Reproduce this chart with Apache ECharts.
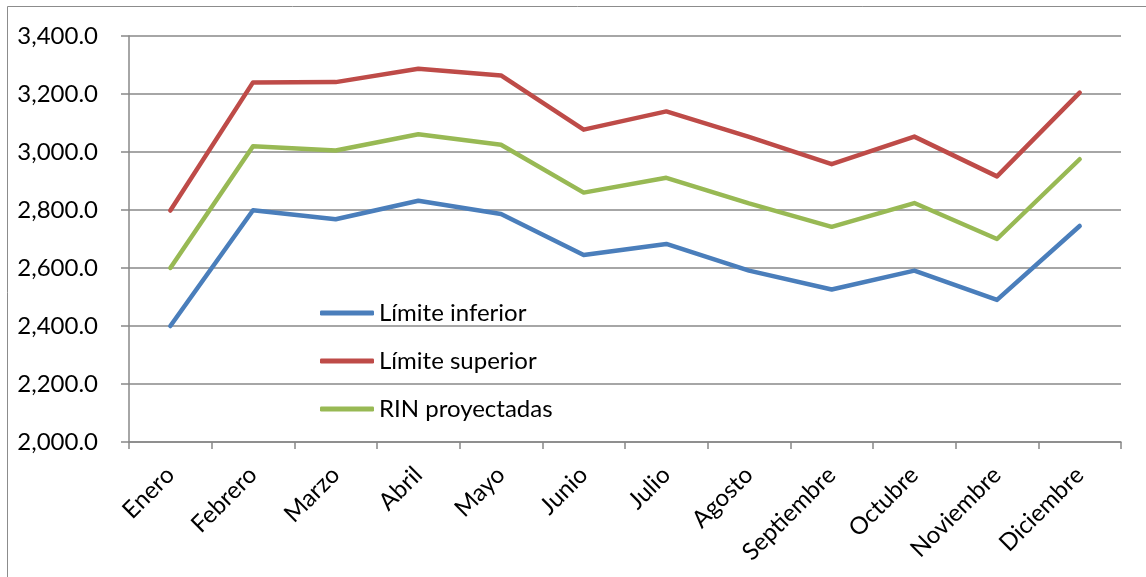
<!DOCTYPE html>
<html>
<head>
<meta charset="utf-8">
<script src="https://cdn.jsdelivr.net/npm/echarts@6/dist/echarts.min.js"></script>
<style>
  html, body { margin: 0; padding: 0; background: #fff; }
  #chart { width: 1146px; height: 577px; }
</style>
</head>
<body>
<div id="chart"></div>
<script>
// Monthly categories
const months = ['Enero', 'Febrero', 'Marzo', 'Abril', 'Mayo', 'Junio', 'Julio',
  'Agosto', 'Septiembre', 'Octubre', 'Noviembre', 'Diciembre'];

// Series values
const limiteInferior = [2400, 2799, 2768, 2832, 2786, 2645, 2683, 2591, 2526, 2591, 2490, 2745];
const limiteSuperior = [2798, 3240, 3241, 3287, 3264, 3077, 3140, 3052, 2958, 3053, 2916, 3205];
const rinProyectadas = [2600, 3020, 3005, 3061, 3025, 2860, 2911, 2823, 2742, 2824, 2700, 2975];

// Value axis range
const yMin = 2000, yMax = 3400, yStep = 200;

const FONT = 'Lato';
const FONT_SIZE = 24;
const GRID_COLOR = '#888888';

function lineSeries(name, data, color) {
  return {
    name: name,
    type: 'line',
    data: data,
    symbol: 'none',
    showSymbol: false,
    color: color,
    lineStyle: { color: color, width: 4.5, cap: 'round', join: 'round' },
    itemStyle: { color: color }
  };
}

const chart = echarts.init(document.getElementById('chart'), null, { renderer: 'canvas' });
chart.setOption({
  animation: false,
  backgroundColor: '#ffffff',
  graphic: [{
    type: 'rect',
    shape: { x: 7.5, y: 6.5, width: 1300, height: 800 },
    style: { fill: 'none', stroke: '#8c8c8c', lineWidth: 1 },
    silent: true
  }],
  grid: { left: 129, right: 25, top: 36, bottom: 135, containLabel: false },
  legend: {
    orient: 'vertical',
    left: 320,
    top: 301,
    padding: 0,
    icon: 'roundRect',
    itemWidth: 54,
    itemHeight: 5,
    itemGap: 24,
    textStyle: { fontFamily: FONT, fontSize: FONT_SIZE, color: '#000', lineHeight: 24 },
    data: ['Límite inferior', 'Límite superior', 'RIN proyectadas']
  },
  xAxis: {
    type: 'category',
    data: months,
    boundaryGap: true,
    axisLine: { show: true, lineStyle: { color: GRID_COLOR, width: 1.5 } },
    axisTick: { show: true, alignWithLabel: false, length: 7, lineStyle: { color: GRID_COLOR, width: 1.5 } },
    axisLabel: {
      interval: 0,
      rotate: 45,
      margin: 29,
      fontFamily: FONT,
      fontSize: FONT_SIZE,
      color: '#000'
    },
    splitLine: { show: false }
  },
  yAxis: {
    type: 'value',
    min: yMin,
    max: yMax,
    interval: yStep,
    axisLine: { show: true, lineStyle: { color: GRID_COLOR, width: 1.5 } },
    axisTick: { show: true, length: 8, lineStyle: { color: GRID_COLOR, width: 1.5 } },
    axisLabel: {
      margin: 31,
      fontFamily: FONT,
      fontSize: FONT_SIZE,
      color: '#000',
      formatter: v => v.toLocaleString('en-US', { minimumFractionDigits: 1, maximumFractionDigits: 1 })
    },
    splitLine: { show: true, lineStyle: { color: GRID_COLOR, width: 1.5 } }
  },
  series: [
    lineSeries('Límite inferior', limiteInferior, '#4a7ebb'),
    lineSeries('Límite superior', limiteSuperior, '#be4b48'),
    lineSeries('RIN proyectadas', rinProyectadas, '#98b954')
  ]
});
</script>
</body>
</html>
